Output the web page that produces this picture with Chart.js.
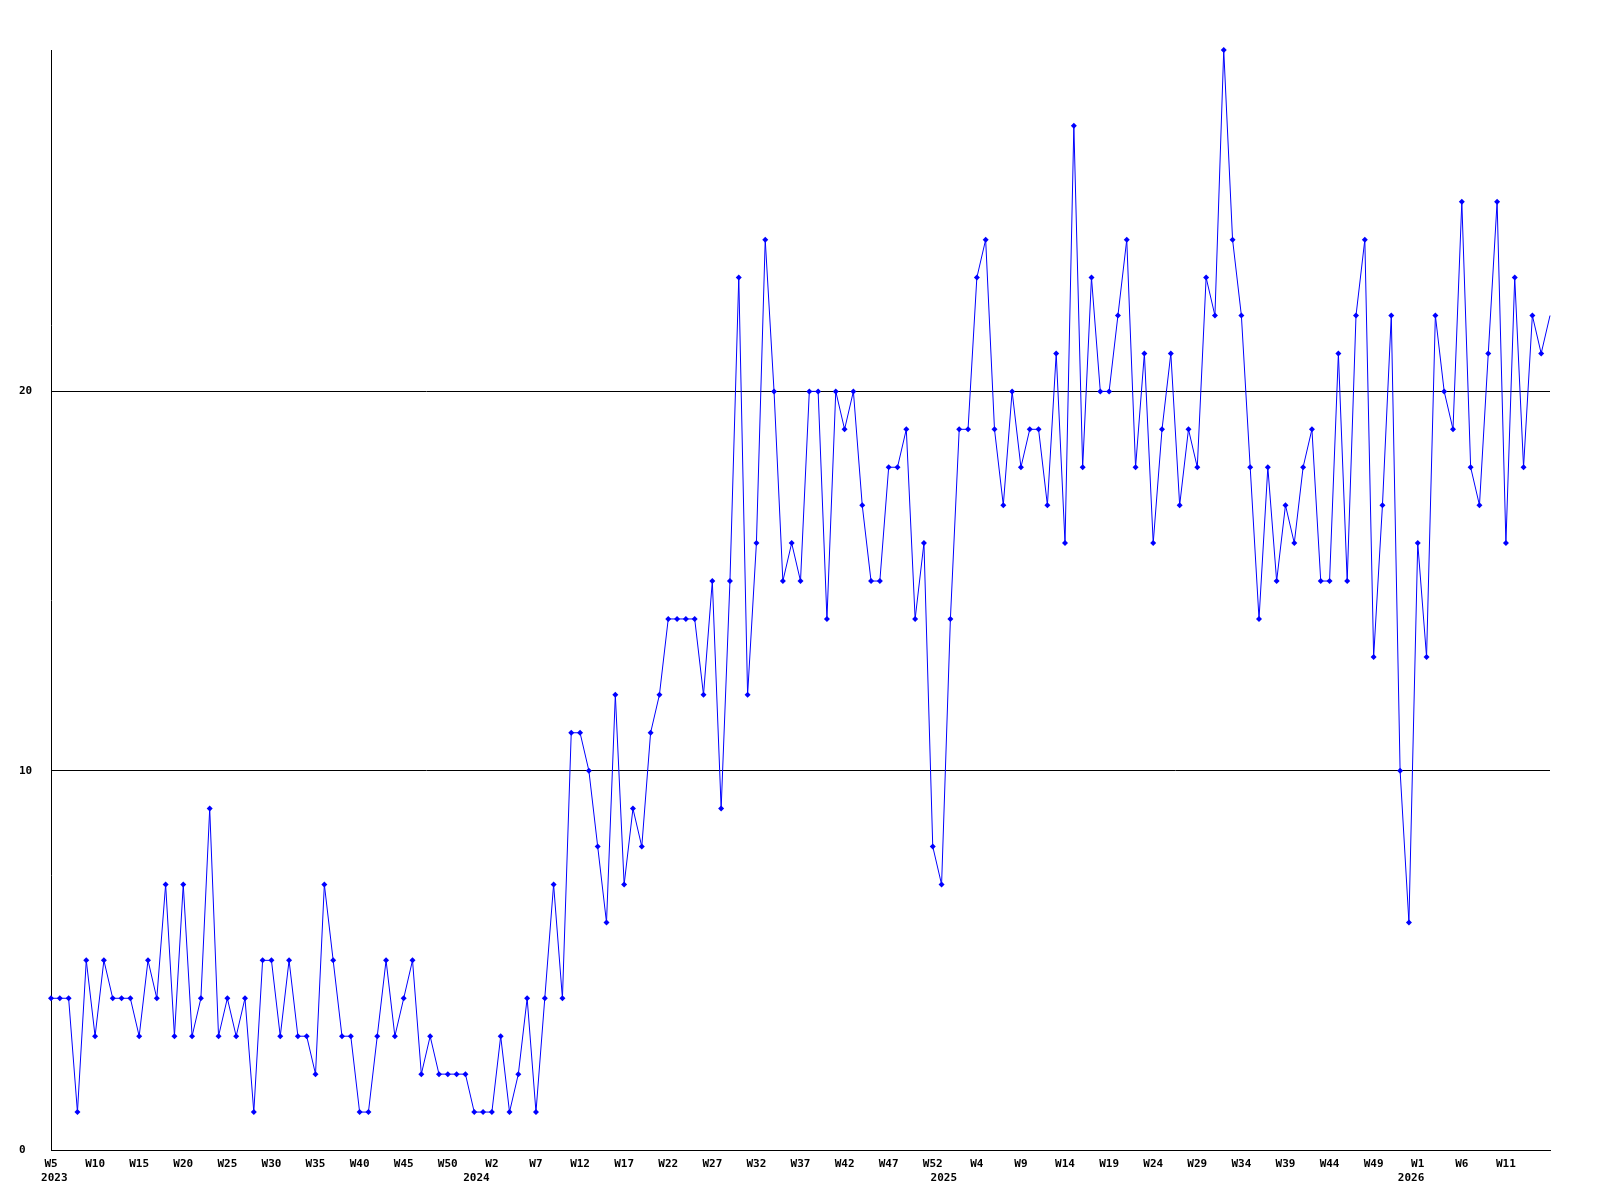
<!DOCTYPE html>
<html>
<head>
<meta charset="utf-8">
<script src="https://cdn.jsdelivr.net/npm/chart.js@4.4.1/dist/chart.umd.min.js"></script>
<style>
  html, body { margin: 0; padding: 0; background: #ffffff; }
  canvas { display: block; }
</style>
</head>
<body>
<canvas id="c" width="1600" height="1200"></canvas>
<script>
// ---- data ----
const years = [2023, 2024, 2025, 2026];
const firstWeek = [5, 1, 1, 1];
const lastWeek = [53, 53, 53, 16];

const values2023 = [4,4,4,1,5,3,5,4,4,4, 3,5,4,7,3,7,3,4,9,3, 4,3,4,1,5,5,3,5,3,3, 2,7,5,3,3,1,1,3,5,3, 4,5,2,3,2,2,2,2,1];
const values2024 = [1,1,3,1,2,4,1,4,7,4, 11,11,10,8,6,12,7,9,8,11, 12,14,14,14,14,12,15,9,15,23, 12,16,24,20,15,16,15,20,20,14, 20,19,20,17,15,15,18,18,19,14, 16,8,7];
const values2025 = [14,19,19,23,24,19,17,20,18,19, 19,17,21,16,27,18,23,20,20,22, 24,18,21,16,19,21,17,19,18,23, 22,29,24,22,18,14,18,15,17,16, 18,19,15,15,21,15,22,24,13,17, 22,10,6];
const values2026 = [16,13,22,20,19,25,18,17,21,25, 16,23,18,22,21,22];

const yTicks = [0, 10, 20];
const yMin = 0;
const yMax = 29;
const tickEvery = 5;

// ---- build categories ----
const weekLabels = [];
const weekYears = [];
const weekNums = [];
years.forEach((y, i) => {
  for (let w = firstWeek[i]; w <= lastWeek[i]; w++) {
    weekLabels.push('W' + w);
    weekYears.push(y);
    weekNums.push(w);
  }
});
const values = [].concat(values2023, values2024, values2025, values2026);
const lastIndex = values.length - 1;

const tickFont = { family: "'DejaVu Sans Mono', 'Liberation Mono', monospace", size: 11, weight: 'bold' };

new Chart(document.getElementById('c'), {
  type: 'line',
  data: {
    labels: weekLabels,
    datasets: [{
      data: values,
      borderColor: '#0000ff',
      borderWidth: 1,
      backgroundColor: '#0000ff',
      pointBackgroundColor: '#0000ff',
      pointBorderColor: '#0000ff',
      pointBorderWidth: 0,
      pointStyle: 'rectRot',
      pointRadius: ctx => (ctx.dataIndex === lastIndex ? 0 : 3),
      tension: 0,
      fill: false,
      clip: false
    }]
  },
  options: {
    responsive: false,
    animation: false,
    devicePixelRatio: 1,
    events: [],
    layout: { padding: { left: 19, right: 50, top: 50, bottom: 12 } },
    plugins: {
      legend: { display: false },
      tooltip: { enabled: false }
    },
    scales: {
      x: {
        type: 'category',
        position: 'bottom',
        weight: 0,
        offset: false,
        grid: { display: false, drawTicks: false },
        border: { display: true, color: '#000000', width: 1 },
        ticks: {
          autoSkip: false,
          maxRotation: 0,
          minRotation: 0,
          padding: 8,
          color: '#000000',
          font: tickFont,
          callback: (v, i) => (i % tickEvery === 0 && i < lastIndex ? weekLabels[i] : null)
        },
        afterFit: s => { s.height = 18; }
      },
      years: {
        type: 'category',
        position: 'bottom',
        weight: 1,
        offset: false,
        grid: { display: false, drawTicks: false },
        border: { display: false },
        ticks: {
          autoSkip: false,
          maxRotation: 0,
          minRotation: 0,
          padding: 4,
          color: '#000000',
          font: tickFont,
          callback: (v, i) => {
            if (i === 0) return ' ' + weekYears[0];
            if (weekNums[i] === 1) return weekYears[i] + '  ';
            return null;
          }
        },
        afterFit: s => { s.height = 20; }
      },
      y: {
        type: 'linear',
        min: yMin,
        max: yMax,
        grid: { color: '#000000', lineWidth: 1, drawTicks: false },
        border: { display: true, color: '#000000', width: 1 },
        ticks: {
          crossAlign: 'far',
          padding: 0,
          color: '#000000',
          font: tickFont
        },
        afterBuildTicks: s => { s.ticks = yTicks.map(v => ({ value: v })); },
        afterFit: s => { s.width = 32; }
      }
    }
  }
});
</script>
</body>
</html>
